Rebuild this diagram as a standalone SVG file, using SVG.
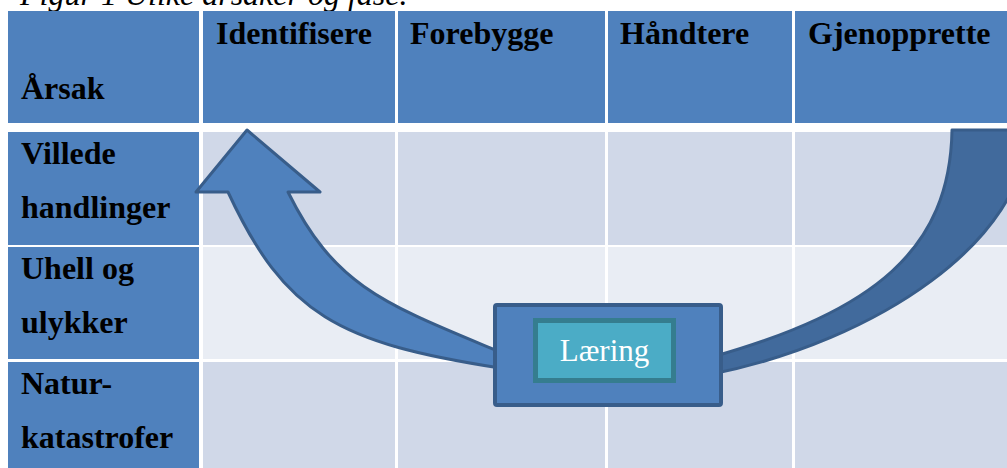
<svg xmlns="http://www.w3.org/2000/svg" width="1007" height="468" viewBox="0 0 1007 468">
<style>
.hd{fill:#4F81BD}
.r1{fill:#D0D8E8}
.r2{fill:#E9EDF4}
.t{font-family:"Liberation Serif","Times New Roman",serif;font-size:32px;font-weight:bold;fill:#000}
.cap{font-family:"Liberation Serif","Times New Roman",serif;font-size:32px;font-style:italic;fill:#000}
.arrow{stroke:#385D8A;stroke-width:3;stroke-linejoin:round}
</style>
<rect width="1007" height="468" fill="#FFFFFF"/>
<text class="cap" x="20" y="5">Figur 1 Ulike årsaker og fase.</text>
<g id="table">
<g id="header">
<rect class="hd" x="8" y="11" width="191" height="112"/>
<rect class="hd" x="203" y="11" width="192" height="112"/>
<rect class="hd" x="398" y="11" width="207" height="112"/>
<rect class="hd" x="608" y="11" width="184" height="112"/>
<rect class="hd" x="795" y="11" width="212" height="112"/>
<text class="t" x="21" y="99">Årsak</text>
<text class="t" x="216" y="44">Identifisere</text>
<text class="t" x="410" y="44">Forebygge</text>
<text class="t" x="620" y="44">Håndtere</text>
<text class="t" x="808" y="44">Gjenopprette</text>
</g>
<g id="row-villede">
<rect class="hd" x="8" y="132" width="191" height="113"/>
<rect class="r1" x="203" y="132" width="192" height="113"/>
<rect class="r1" x="398" y="132" width="207" height="113"/>
<rect class="r1" x="608" y="132" width="184" height="113"/>
<rect class="r1" x="795" y="132" width="212" height="113"/>
<text class="t" x="21" y="164">Villede</text>
<text class="t" x="21" y="218">handlinger</text>
</g>
<g id="row-uhell">
<rect class="hd" x="8" y="247" width="191" height="112"/>
<rect class="r2" x="203" y="247" width="192" height="112"/>
<rect class="r2" x="398" y="247" width="207" height="112"/>
<rect class="r2" x="608" y="247" width="184" height="112"/>
<rect class="r2" x="795" y="247" width="212" height="112"/>
<text class="t" x="21" y="279">Uhell og</text>
<text class="t" x="21" y="333">ulykker</text>
</g>
<g id="row-natur">
<rect class="hd" x="8" y="362" width="191" height="106"/>
<rect class="r1" x="203" y="362" width="192" height="106"/>
<rect class="r1" x="398" y="362" width="207" height="106"/>
<rect class="r1" x="608" y="362" width="184" height="106"/>
<rect class="r1" x="795" y="362" width="212" height="106"/>
<text class="t" x="21" y="394">Natur-</text>
<text class="t" x="21" y="448">katastrofer</text>
</g>
</g>
<g id="connectors">
<path class="arrow" fill="#4F81BD" d="M247,130 L320,192 L288,192 C335,287 385,304 500,352 L500,368 C339,343 285,315 228,192 L196,192 Z"/>
<path class="arrow" fill="#416A9C" d="M952,130 L1027,130 C1027,240 877,341 712,374 L712,357 C874,311 950,250 952,130 Z"/>
</g>
<g id="laering">
<rect x="495" y="305" width="226" height="100" rx="2" fill="#4F81BD" stroke="#385D8A" stroke-width="4"/>
<rect x="535.5" y="320.5" width="138" height="60" fill="#4BACC6" stroke="#357D8F" stroke-width="5"/>
<text x="604.5" y="361" text-anchor="middle" font-family="Liberation Serif, Times New Roman, serif" font-size="31" fill="#FFFFFF">Læring</text>
</g>
</svg>
